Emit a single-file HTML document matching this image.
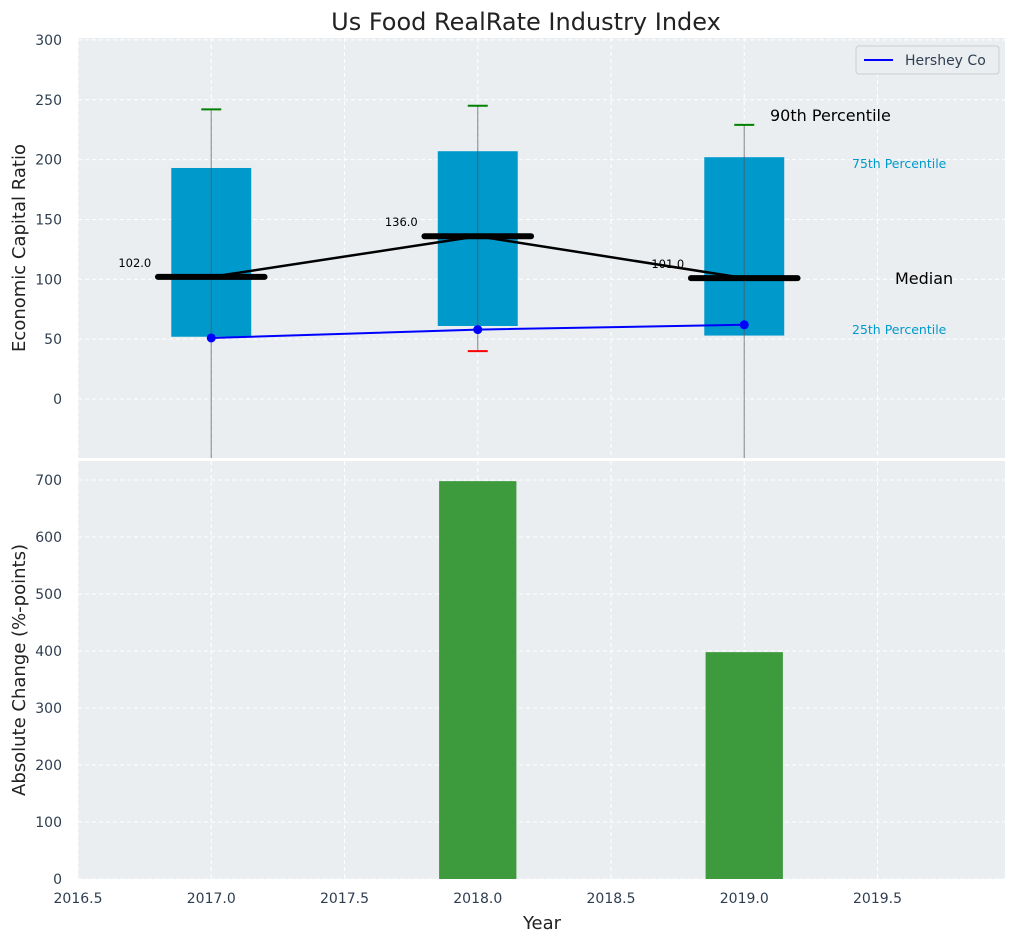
<!DOCTYPE html>
<html><head><meta charset="utf-8"><style>
body{margin:0;background:#fff;font-family:"Liberation Sans","DejaVu Sans",sans-serif}
svg text{font-family:"DejaVu Sans","Liberation Sans",sans-serif}
</style></head><body>
<svg id="c" width="1016" height="942" xmlns="http://www.w3.org/2000/svg"></svg>
<script>
const years=[2017,2018,2019];
const q25=[52,61,53];
const q75=[193,207,202];
const medians=[102,136,101];
const p90=[242,245,229];
const p10=[-80,40,-80];
const hershey=[51,58,62];
const changes=[0,698,398];
const topTicks=[0,50,100,150,200,250,300];
const botTicks=[0,100,200,300,400,500,600,700];
const xTicks=[2016.5,2017,2017.5,2018,2018.5,2019,2019.5];

const NS="http://www.w3.org/2000/svg";
const svg=document.getElementById('c');
function el(t,a,p){const e=document.createElementNS(NS,t);for(const k in a)e.setAttribute(k,a[k]);(p||svg).appendChild(e);return e;}
const X=v=>78+(v-2016.5)*266.5;
const Yt=v=>399-v*1.197;
const Yb=v=>879-v*0.57;
const L=78,R=1005;

// top axes
let bg=el('rect',{x:L,y:38,width:R-L,height:420,fill:'#eaeef0'});


let bg2=el('rect',{x:L,y:461,width:R-L,height:418,fill:'#eaeef0'});


const clipT=el('clipPath',{id:'ct'});el('rect',{x:L,y:38,width:R-L,height:420},clipT);
const gT=el('g',{'clip-path':'url(#ct)'});
// grid
xTicks.forEach(t=>{
 el('line',{x1:X(t),x2:X(t),y1:38,y2:458,stroke:'#fff','stroke-dasharray':'4,3','stroke-width':1},gT);
 el('line',{x1:X(t),x2:X(t),y1:461,y2:879,stroke:'#fff','stroke-dasharray':'4,3','stroke-width':1});
});
topTicks.forEach(t=>{
 el('line',{x1:L,x2:R,y1:Yt(t),y2:Yt(t),stroke:'#fff','stroke-dasharray':'4,3'},gT);
 const tx=el('text',{x:62,y:Yt(t)+5,'text-anchor':'end','font-size':14,fill:'#2e3e50'});tx.textContent=t;
 
 
});
botTicks.forEach(t=>{
 el('line',{x1:L,x2:R,y1:Yb(t),y2:Yb(t),stroke:'#fff','stroke-dasharray':'4,3'});
 const tx=el('text',{x:62,y:Yb(t)+5,'text-anchor':'end','font-size':14,fill:'#2e3e50'});tx.textContent=t;
 
 
});
xTicks.forEach(t=>{
 const tx=el('text',{x:X(t),y:903,'text-anchor':'middle','font-size':14,fill:'#2e3e50'});tx.textContent=t.toFixed(1);
 
 
});
// boxes
years.forEach((y,i)=>{
 const b=el('rect',{x:X(y-0.15),y:Yt(q75[i]),width:0.3*266.5,height:Yt(q25[i])-Yt(q75[i]),fill:'#0099cc'},gT);
 
 
 el('line',{x1:X(y),x2:X(y),y1:Yt(p90[i]),y2:Yt(p10[i]),stroke:'#555','stroke-opacity':0.6,'stroke-width':1.2},gT);
 el('line',{x1:X(y)-10,x2:X(y)+10,y1:Yt(p90[i]),y2:Yt(p90[i]),stroke:'green','stroke-width':2},gT);
 el('line',{x1:X(y)-10,x2:X(y)+10,y1:Yt(p10[i]),y2:Yt(p10[i]),stroke:'red','stroke-width':2},gT);
});
// median line
el('polyline',{points:years.map((y,i)=>X(y)+','+Yt(medians[i])).join(' '),fill:'none',stroke:'#000','stroke-width':2.5},gT);
years.forEach((y,i)=>{
 const m=el('line',{x1:X(y-0.2),x2:X(y+0.2),y1:Yt(medians[i]),y2:Yt(medians[i]),stroke:'#000','stroke-width':6,'stroke-linecap':'round'},gT);
 
 
 const t=el('text',{x:X(y)-60,y:Yt(medians[i])-10,'text-anchor':'end','font-size':11.5,fill:'#000'},gT);t.textContent=medians[i].toFixed(1);
 
 
});
// hershey
el('polyline',{points:years.map((y,i)=>X(y)+','+Yt(hershey[i])).join(' '),fill:'none',stroke:'blue','stroke-width':2},gT);
years.forEach((y,i)=>{
 const c=el('circle',{cx:X(y),cy:Yt(hershey[i]),r:4.5,fill:'blue'},gT);
 
 
});
// annotations
[['90th Percentile',770,121,16,'#000'],['75th Percentile',852,168,12.5,'#0099cc'],['Median',895,284,16,'#000'],['25th Percentile',852,334,12.5,'#0099cc']].forEach(a=>{
 const t=el('text',{x:a[1],y:a[2],'font-size':a[3],fill:a[4]});t.textContent=a[0];
 
 
});
// legend
const lg=el('g',{});


el('rect',{x:856,y:46,width:143,height:28,rx:3,fill:'#eaeef0',stroke:'#ccc'},lg);
el('line',{x1:864,x2:893,y1:60,y2:60,stroke:'blue','stroke-width':2},lg);
const lt=el('text',{x:905,y:65,'font-size':14,fill:'#2e3e50'},lg);lt.textContent='Hershey Co';
// bars
years.forEach((y,i)=>{
 const b=el('rect',{x:X(y-0.145),y:Yb(changes[i]),width:0.29*266.5,height:Yb(0)-Yb(changes[i]),fill:'#2e922e','fill-opacity':0.92});
 
 
});
// titles
const tt=el('text',{x:526,y:30,'text-anchor':'middle','font-size':24,fill:'#222'});tt.textContent='Us Food RealRate Industry Index';


const yl=el('text',{transform:'translate(25,248) rotate(-90)','text-anchor':'middle','font-size':18,fill:'#222'});yl.textContent='Economic Capital Ratio';


const yl2=el('text',{transform:'translate(25,670) rotate(-90)','text-anchor':'middle','font-size':18,fill:'#222'});yl2.textContent='Absolute Change (%-points)';


const xl=el('text',{x:542,y:929,'text-anchor':'middle','font-size':18,fill:'#222'});xl.textContent='Year';


</script>
</body></html>
